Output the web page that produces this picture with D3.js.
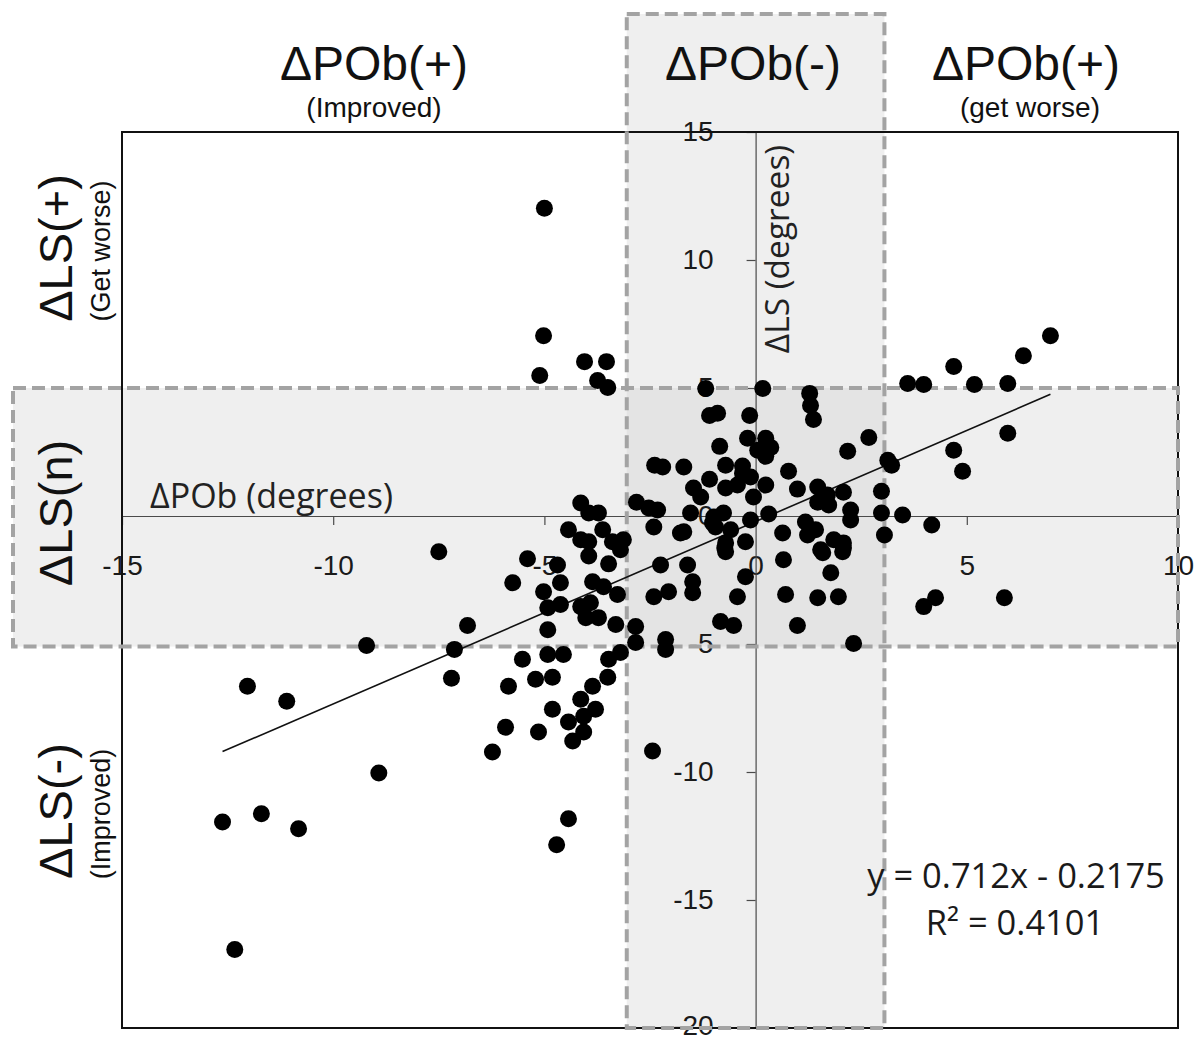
<!DOCTYPE html>
<html>
<head>
<meta charset="utf-8">
<script src="https://cdn.jsdelivr.net/npm/d3@7"></script>
<style>
body { margin: 0; background: #fff; }
svg { display: block; }
</style>
</head>
<body>
<svg width="1200" height="1041"></svg>
<script>
// axis ticks
var xTicks = [-15, -10, -5, 0, 5, 10];
var yTicks = [15, 10, 5, 0, -5, -10, -15, -20];

// shaded "no change" bands (degrees)
var bandPOb = [-3.05, 3.05];
var bandLS = [-5.1, 5.0];

// regression shown on the chart
var slope = 0.712, intercept = -0.2175, r2 = 0.4101;

// quadrant labels
var topLabels = [["\u0394POb(+)", "(Improved)"], ["\u0394POb(-)", ""], ["\u0394POb(+)", "(get worse)"]];
var sideLabels = [["\u0394LS(+)", "(Get worse)"], ["\u0394LS(n)", ""], ["\u0394LS(-)", "(Improved)"]];

// change in pelvic obliquity (x) and change in lumbar scoliosis (y), same order
var dPOb = [
  -5.00, -5.02, -5.11, -4.05, -3.53, -3.74, -3.50,
  6.98, 6.34, 4.69, 3.60, 3.98, 5.18, 5.97, 5.97, 4.69, 4.90, 4.17, 3.48, 3.98, 4.26, 5.89,
  3.13, 3.22, 2.98, 2.98, 3.05, 2.68, 2.18,
  -1.18, 0.17, 1.28, 1.30, 1.37, -1.09, -0.90, -0.14, -0.85, -0.19, 0.24, 0.36, 0.24, 0.05,
  -2.39, -2.20, -1.70, -0.71, -0.31, 0.78, -1.09, -0.12, -1.47, -0.71, -0.43, 0.24, 0.99,
  1.47, 1.70, 2.08, -1.30, -0.05, 1.47, 1.73, 2.25, 2.25, -1.54, -0.76, 0.31, -0.99, -0.12,
  -1.02, -1.70, -0.59, 1.18, 1.42, 0.64, 1.85, 2.08, -0.71, -0.24, -0.95, -0.31, 1.23, 1.54, 2.08, -0.73,
  -4.14, -3.95, -3.72, -4.43, -4.14, -3.95, -3.62, -3.39, -3.13, -2.82, -2.53, -2.32, -2.41, -1.78,
  -5.40, -4.69, -3.95, -3.20, -3.48, -2.25, -5.75, -4.62, -5.02, -3.86, -3.60, -3.27, -4.92, -4.62,
  -4.14, -3.91, -4.02, -3.72, -3.31, -2.84, -2.41, -2.06, -4.92, -2.84, -2.13, -2.13, -5.52, -4.92,
  -4.55, -3.48, -3.20, -5.21, -4.81, -3.50, -5.85, -3.86, -4.14, -4.81, -3.79, -4.07, -4.43, -5.92,
  -5.14, -4.07, -4.33, -6.23, -2.44,
  -0.71, -1.61, -1.49, -1.49, -0.24, -0.43, -0.83, -0.52, 0.66, 1.59, 2.06, 1.78, 0.71, 1.47, 1.96, 0.99, 2.32,
  -7.50, -6.82, -9.21, -7.13, -7.20, -12.03, -11.10, -8.92, -12.62, -11.70, -10.82, -12.33, -4.43, -4.71
];
var dLS = [
  12.02, 7.04, 5.49, 6.03, 6.03, 5.29, 5.02,
  7.04, 6.26, 5.84, 5.18, 5.14, 5.14, 5.18, 3.23, 2.57, 1.75, -0.35, 0.04, -3.54, -3.19, -3.19,
  2.18, 1.98, 0.97, 0.12, -0.74, 3.07, 2.53,
  4.98, 4.98, 4.79, 4.32, 3.77, 3.93, 4.01, 3.93, 2.72, 3.04, 3.04, 2.68, 2.33, 2.57,
  1.98, 1.91, 1.91, 1.98, 1.95, 1.75, 1.44, 1.52, 1.09, 1.09, 1.21, 1.21, 1.05,
  1.13, 0.82, 0.93, 0.74, 0.74, 0.54, 0.43, 0.23, -0.16, 0.12, 0.12, 0.08, -0.04, -0.16,
  -0.27, -0.62, -0.54, -0.23, -0.54, -0.66, -0.93, -1.05, -1.05, -1.01, -0.43, 1.67, -0.74, -1.32, -1.25, -1.25,
  0.51, 0.12, 0.12, -0.54, -0.93, -1.01, -0.54, -1.01, -0.93, 0.54, 0.31, 0.23, -0.43, -0.66,
  -1.67, -1.91, -1.56, -1.32, -1.87, -1.91, -2.61, -2.61, -2.96, -2.57, -2.76, -3.07, -3.58, -3.46,
  -3.54, -3.39, -3.97, -3.97, -4.24, -4.32, -3.15, -2.96, -4.44, -4.94, -4.82, -5.21, -5.60, -5.41,
  -5.41, -5.60, -5.33, -6.38, -6.30, -6.30, -6.65, -6.65, -7.16, -7.55, -7.55, -7.82, -8.05, -8.25,
  -8.44, -8.44, -8.79, -9.22, -9.18,
  -1.40, -1.91, -2.57, -3.00, -2.37, -3.15, -4.12, -4.28, -1.71, -1.44, -1.40, -2.22, -3.07, -3.19, -3.15, -4.28, -4.98,
  -1.40, -4.28, -5.06, -5.21, -6.34, -6.65, -7.24, -10.04, -11.95, -11.63, -12.22, -16.93, -11.83, -12.84
];

var points = dPOb.map(function(d, i) { return { x: d, y: dLS[i] }; });

var svg = d3.select("svg"),
    width = 1200,
    height = 1041;

var arial = "'Liberation Sans', Arial, sans-serif";
var calibri = "'Open Sans', 'DejaVu Sans', sans-serif";

var x = d3.scaleLinear().domain([-15, 10]).range([122, 1178]);
var y = d3.scaleLinear().domain([-20, 15]).range([1028, 132]);

//////////////////////////
// shaded bands
//////////////////////////
var bands = [
  { x0: x(bandPOb[0]), x1: x(bandPOb[1]), y0: 14, y1: y(-20) },
  { x0: 13, x1: x(10), y0: y(bandLS[1]), y1: y(bandLS[0]) }
];

svg.append("g").selectAll("rect")
    .data(bands)
    .enter()
    .append("rect")
    .attr("x", function(d) { return d.x0; })
    .attr("y", function(d) { return d.y0; })
    .attr("width", function(d) { return d.x1 - d.x0; })
    .attr("height", function(d) { return d.y1 - d.y0; })
    .style("fill", "#cfcfcf")
    .style("opacity", 0.33);

//////////////////////////
// axes through the origin
//////////////////////////
var xAxis = svg.append("g")
    .attr("transform", "translate(0," + y(0) + ")")
    .call(d3.axisBottom(x)
        .tickValues(xTicks)
        .tickSize(9)
        .tickSizeOuter(0)
        .tickPadding(30)
        .tickFormat(function(d) { return String(d); }));

var yAxis = svg.append("g")
    .attr("transform", "translate(" + x(0) + ",0)")
    .call(d3.axisLeft(y)
        .tickValues(yTicks)
        .tickSize(9)
        .tickSizeOuter(0)
        .tickPadding(33)
        .tickFormat(function(d) { return String(d); }));

svg.selectAll(".domain").style("stroke", "#4a4a4a").style("stroke-width", 1.2);
svg.selectAll(".tick line").style("stroke", "#4a4a4a").style("stroke-width", 1.2);
svg.selectAll(".tick text")
    .style("font-family", arial)
    .style("font-size", "28px")
    .style("fill", "#1a1a1a");

// bottom label sits on the frame; lift it a hair so it stays inside the page
yAxis.selectAll(".tick text").filter(function(d) { return d == -20; }).attr("dy", "0.22em");

// plot frame
svg.append("rect")
    .attr("x", x(-15))
    .attr("y", y(15))
    .attr("width", x(10) - x(-15))
    .attr("height", y(-20) - y(15))
    .style("fill", "none")
    .style("stroke", "#111")
    .style("stroke-width", 2);

// dashed borders of the bands
svg.append("g").selectAll("rect")
    .data(bands)
    .enter()
    .append("rect")
    .attr("x", function(d) { return d.x0; })
    .attr("y", function(d) { return d.y0; })
    .attr("width", function(d) { return d.x1 - d.x0; })
    .attr("height", function(d) { return d.y1 - d.y0; })
    .style("fill", "none")
    .style("stroke", "#a3a3a3")
    .style("stroke-width", 4)
    .style("stroke-dasharray", "13,6");

//////////////////////////
// axis titles
//////////////////////////
svg.append("text")
    .attr("x", 150)
    .attr("y", 508)
    .style("font-family", calibri)
    .style("font-size", "34px")
    .style("fill", "#222")
    .text("\u0394POb (degrees)");

svg.append("text")
    .attr("transform", "translate(789,249) rotate(-90)")
    .attr("text-anchor", "middle")
    .style("font-family", calibri)
    .style("font-size", "33.5px")
    .style("fill", "#222")
    .text("\u0394LS (degrees)");

//////////////////////////
// trend line + points
//////////////////////////
var xr = d3.extent(dPOb);
svg.append("line")
    .attr("x1", x(xr[0]))
    .attr("y1", y(slope * xr[0] + intercept))
    .attr("x2", x(xr[1]))
    .attr("y2", y(slope * xr[1] + intercept))
    .style("stroke", "#111")
    .style("stroke-width", 1.6);

svg.append("g").selectAll("circle")
    .data(points)
    .enter()
    .append("circle")
    .attr("cx", function(d) { return x(d.x); })
    .attr("cy", function(d) { return y(d.y); })
    .attr("r", 8.5)
    .style("fill", "#000");

svg.append("text")
    .attr("x", 1016)
    .attr("y", 888)
    .attr("text-anchor", "middle")
    .style("font-family", calibri)
    .style("font-size", "34.5px")
    .style("fill", "#1a1a1a")
    .text("y = " + slope + "x - " + Math.abs(intercept));

svg.append("text")
    .attr("x", 1015)
    .attr("y", 935)
    .attr("text-anchor", "middle")
    .style("font-family", calibri)
    .style("font-size", "34.5px")
    .style("fill", "#1a1a1a")
    .text("R\u00b2 = " + r2);

//////////////////////////
// quadrant labels
//////////////////////////
var topX = [374, 753, 1026];
topLabels.forEach(function(l, i) {
  svg.append("text")
      .attr("x", topX[i])
      .attr("y", 80)
      .attr("text-anchor", "middle")
      .style("font-family", arial)
      .style("font-size", "48px")
      .style("fill", "#111")
      .text(l[0]);
  if (l[1]) {
    svg.append("text")
        .attr("x", topX[i] + (i == 2 ? 4 : 0))
        .attr("y", 117)
        .attr("text-anchor", "middle")
        .style("font-family", arial)
        .style("font-size", "28px")
        .style("fill", "#111")
        .text(l[1]);
  }
});

var sideY = [248, 513, 811];
sideLabels.forEach(function(l, i) {
  svg.append("text")
      .attr("transform", "translate(72," + sideY[i] + ") rotate(-90)")
      .attr("text-anchor", "middle")
      .style("font-family", arial)
      .style("font-size", "47px")
      .style("fill", "#111")
      .text(l[0]);
  if (l[1]) {
    svg.append("text")
        .attr("transform", "translate(110," + (sideY[i] + 3) + ") rotate(-90)")
        .attr("text-anchor", "middle")
        .style("font-family", arial)
        .style("font-size", "27px")
        .style("fill", "#111")
        .text(l[1]);
  }
});
</script>
</body>
</html>
